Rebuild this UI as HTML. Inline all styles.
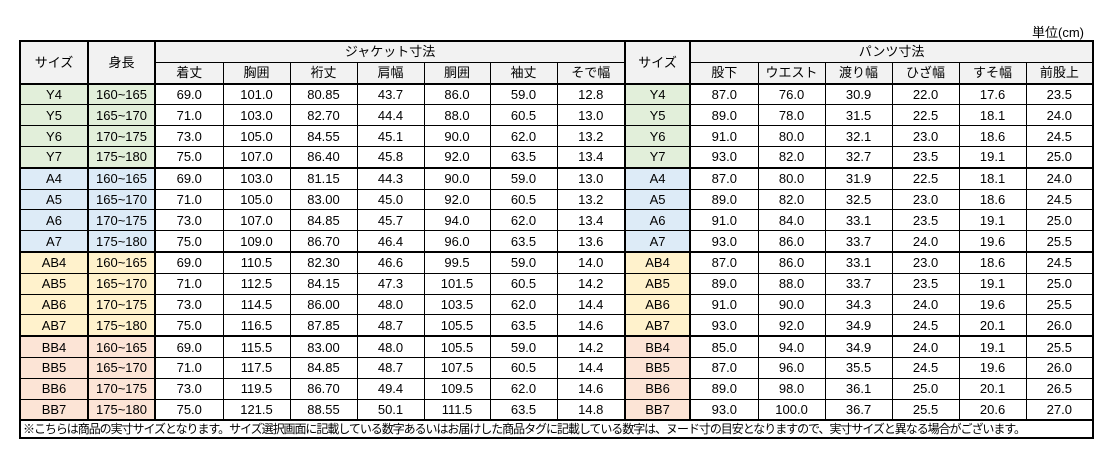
<!DOCTYPE html>
<html><head><meta charset="utf-8"><style>
body{margin:0;background:#fff;width:1119px;height:458px;position:relative;font-family:"Liberation Sans","Noto Sans CJK JP",sans-serif;font-size:13px;color:#000;overflow:hidden}
.unit{position:absolute;left:1032px;top:22px;font-size:13px}
table{position:absolute;left:19px;top:40px;width:1074px;border-collapse:collapse;table-layout:fixed;border:2px solid #000}
td{border:1px solid #000;text-align:center;padding:0;height:19.8px;line-height:19px;white-space:nowrap;overflow:hidden}
.h td{background:#f2f2f2}
.tr{border-right:2px solid #000}
.tb td{border-bottom:2px solid #000}
.y{background:#e2efda}.a{background:#ddebf7}.ab{background:#fff2cc}.bb{background:#fce4d6}
.foot td{text-align:left;height:16px;line-height:16px;padding-left:2px;font-size:12px;letter-spacing:-1.05px;border-top:2px solid #000}
</style></head><body>
<div class="unit">単位(cm)</div>
<table>
<colgroup><col style="width:68px"><col style="width:67px"><col style="width:68px"><col style="width:67px"><col style="width:67px"><col style="width:67px"><col style="width:66px"><col style="width:67px"><col style="width:68px"><col style="width:65px"><col style="width:68px"><col style="width:67px"><col style="width:67px"><col style="width:67px"><col style="width:67px"><col style="width:67px"></colgroup>
<tr class="h"><td rowspan="2" class="tr" style="border-bottom:2px solid #000">サイズ</td><td rowspan="2" class="tr" style="border-bottom:2px solid #000">身長</td><td colspan="7" class="tr">ジャケット寸法</td><td rowspan="2" class="tr" style="border-bottom:2px solid #000">サイズ</td><td colspan="6">パンツ寸法</td></tr>
<tr class="h tb"><td>着丈</td><td>胸囲</td><td>裄丈</td><td>肩幅</td><td>胴囲</td><td>袖丈</td><td class="tr">そで幅</td><td>股下</td><td>ウエスト</td><td>渡り幅</td><td>ひざ幅</td><td>すそ幅</td><td>前股上</td></tr>
<tr><td class="y tr">Y4</td><td class="y tr">160~165</td><td>69.0</td><td>101.0</td><td>80.85</td><td>43.7</td><td>86.0</td><td>59.0</td><td class="tr">12.8</td><td class="y tr">Y4</td><td>87.0</td><td>76.0</td><td>30.9</td><td>22.0</td><td>17.6</td><td>23.5</td></tr>
<tr><td class="y tr">Y5</td><td class="y tr">165~170</td><td>71.0</td><td>103.0</td><td>82.70</td><td>44.4</td><td>88.0</td><td>60.5</td><td class="tr">13.0</td><td class="y tr">Y5</td><td>89.0</td><td>78.0</td><td>31.5</td><td>22.5</td><td>18.1</td><td>24.0</td></tr>
<tr><td class="y tr">Y6</td><td class="y tr">170~175</td><td>73.0</td><td>105.0</td><td>84.55</td><td>45.1</td><td>90.0</td><td>62.0</td><td class="tr">13.2</td><td class="y tr">Y6</td><td>91.0</td><td>80.0</td><td>32.1</td><td>23.0</td><td>18.6</td><td>24.5</td></tr>
<tr class="tb"><td class="y tr">Y7</td><td class="y tr">175~180</td><td>75.0</td><td>107.0</td><td>86.40</td><td>45.8</td><td>92.0</td><td>63.5</td><td class="tr">13.4</td><td class="y tr">Y7</td><td>93.0</td><td>82.0</td><td>32.7</td><td>23.5</td><td>19.1</td><td>25.0</td></tr>
<tr><td class="a tr">A4</td><td class="a tr">160~165</td><td>69.0</td><td>103.0</td><td>81.15</td><td>44.3</td><td>90.0</td><td>59.0</td><td class="tr">13.0</td><td class="a tr">A4</td><td>87.0</td><td>80.0</td><td>31.9</td><td>22.5</td><td>18.1</td><td>24.0</td></tr>
<tr><td class="a tr">A5</td><td class="a tr">165~170</td><td>71.0</td><td>105.0</td><td>83.00</td><td>45.0</td><td>92.0</td><td>60.5</td><td class="tr">13.2</td><td class="a tr">A5</td><td>89.0</td><td>82.0</td><td>32.5</td><td>23.0</td><td>18.6</td><td>24.5</td></tr>
<tr><td class="a tr">A6</td><td class="a tr">170~175</td><td>73.0</td><td>107.0</td><td>84.85</td><td>45.7</td><td>94.0</td><td>62.0</td><td class="tr">13.4</td><td class="a tr">A6</td><td>91.0</td><td>84.0</td><td>33.1</td><td>23.5</td><td>19.1</td><td>25.0</td></tr>
<tr class="tb"><td class="a tr">A7</td><td class="a tr">175~180</td><td>75.0</td><td>109.0</td><td>86.70</td><td>46.4</td><td>96.0</td><td>63.5</td><td class="tr">13.6</td><td class="a tr">A7</td><td>93.0</td><td>86.0</td><td>33.7</td><td>24.0</td><td>19.6</td><td>25.5</td></tr>
<tr><td class="ab tr">AB4</td><td class="ab tr">160~165</td><td>69.0</td><td>110.5</td><td>82.30</td><td>46.6</td><td>99.5</td><td>59.0</td><td class="tr">14.0</td><td class="ab tr">AB4</td><td>87.0</td><td>86.0</td><td>33.1</td><td>23.0</td><td>18.6</td><td>24.5</td></tr>
<tr><td class="ab tr">AB5</td><td class="ab tr">165~170</td><td>71.0</td><td>112.5</td><td>84.15</td><td>47.3</td><td>101.5</td><td>60.5</td><td class="tr">14.2</td><td class="ab tr">AB5</td><td>89.0</td><td>88.0</td><td>33.7</td><td>23.5</td><td>19.1</td><td>25.0</td></tr>
<tr><td class="ab tr">AB6</td><td class="ab tr">170~175</td><td>73.0</td><td>114.5</td><td>86.00</td><td>48.0</td><td>103.5</td><td>62.0</td><td class="tr">14.4</td><td class="ab tr">AB6</td><td>91.0</td><td>90.0</td><td>34.3</td><td>24.0</td><td>19.6</td><td>25.5</td></tr>
<tr class="tb"><td class="ab tr">AB7</td><td class="ab tr">175~180</td><td>75.0</td><td>116.5</td><td>87.85</td><td>48.7</td><td>105.5</td><td>63.5</td><td class="tr">14.6</td><td class="ab tr">AB7</td><td>93.0</td><td>92.0</td><td>34.9</td><td>24.5</td><td>20.1</td><td>26.0</td></tr>
<tr><td class="bb tr">BB4</td><td class="bb tr">160~165</td><td>69.0</td><td>115.5</td><td>83.00</td><td>48.0</td><td>105.5</td><td>59.0</td><td class="tr">14.2</td><td class="bb tr">BB4</td><td>85.0</td><td>94.0</td><td>34.9</td><td>24.0</td><td>19.1</td><td>25.5</td></tr>
<tr><td class="bb tr">BB5</td><td class="bb tr">165~170</td><td>71.0</td><td>117.5</td><td>84.85</td><td>48.7</td><td>107.5</td><td>60.5</td><td class="tr">14.4</td><td class="bb tr">BB5</td><td>87.0</td><td>96.0</td><td>35.5</td><td>24.5</td><td>19.6</td><td>26.0</td></tr>
<tr><td class="bb tr">BB6</td><td class="bb tr">170~175</td><td>73.0</td><td>119.5</td><td>86.70</td><td>49.4</td><td>109.5</td><td>62.0</td><td class="tr">14.6</td><td class="bb tr">BB6</td><td>89.0</td><td>98.0</td><td>36.1</td><td>25.0</td><td>20.1</td><td>26.5</td></tr>
<tr><td class="bb tr">BB7</td><td class="bb tr">175~180</td><td>75.0</td><td>121.5</td><td>88.55</td><td>50.1</td><td>111.5</td><td>63.5</td><td class="tr">14.8</td><td class="bb tr">BB7</td><td>93.0</td><td>100.0</td><td>36.7</td><td>25.5</td><td>20.6</td><td>27.0</td></tr>
<tr class="foot"><td colspan="16">※こちらは商品の実寸サイズとなります。サイズ選択画面に記載している数字あるいはお届けした商品タグに記載している数字は、ヌード寸の目安となりますので、実寸サイズと異なる場合がございます。</td></tr>
</table>
</body></html>
